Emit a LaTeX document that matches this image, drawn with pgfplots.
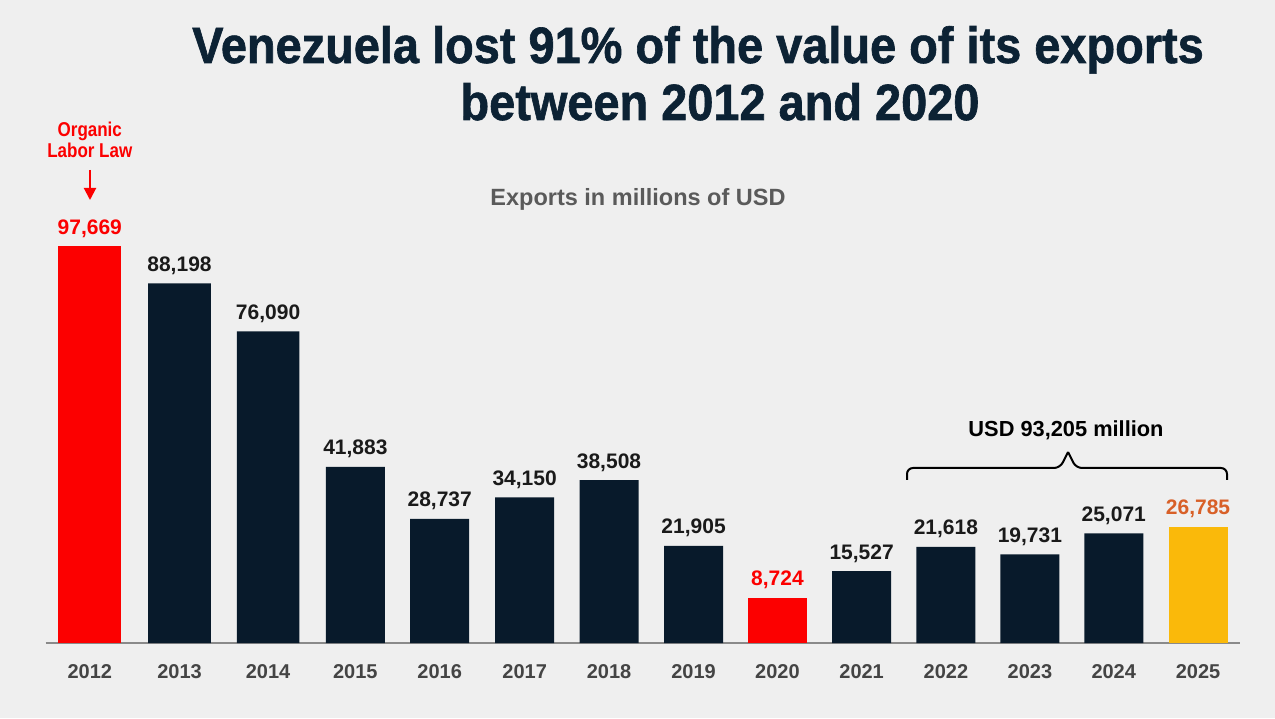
\documentclass[border=0pt]{standalone}
\usepackage{pgfplots}
\pgfplotsset{compat=1.18}
\usepackage{pgfplotstable}
\usepackage{fontspec}
\setmainfont{Liberation Sans}
\newfontfamily\titlefont[FakeStretch=0.92,FakeBold=1.2]{Liberation Sans}
\newfontfamily\condfont[FakeStretch=0.85]{Liberation Sans}
\usetikzlibrary{arrows.meta}
\definecolor{bg}{RGB}{239,239,239}
\definecolor{navy}{RGB}{8,26,43}
\definecolor{titlecol}{RGB}{12,34,52}
\definecolor{redbar}{RGB}{252,0,0}
\definecolor{yellowbar}{RGB}{250,185,10}
\definecolor{orangelab}{RGB}{216,96,40}
\definecolor{labcol}{RGB}{26,26,26}
\definecolor{yeargray}{RGB}{68,68,68}
\definecolor{subgray}{RGB}{90,90,90}
\definecolor{axisgray}{RGB}{138,138,138}

% x = bar position (2012 = 0), y = exports (millions of USD)
\pgfplotstableread{
x y lab
0 97669 97,669
}\redwide
\pgfplotstableread{
x y lab
8.161 8724 8,724
}\rednarrow
\pgfplotstableread{
x y lab
1.065 88198 88,198
2.116 76090 76,090
}\navywide
\pgfplotstableread{
x y lab
3.152 41883 41,883
4.153 28737 28,737
5.161 34150 34,150
6.162 38508 38,508
7.166 21905 21,905
9.160 15527 15,527
10.160 21618 21,618
11.157 19731 19,731
12.152 25071 25,071
}\navynarrow
\pgfplotstableread{
x y lab
13.152 26785 26,785
}\yellowbars

\begin{document}
\begin{tikzpicture}
\fill[bg] (0,0) rectangle (637.5pt,359pt);
\begin{axis}[
  at={(22.85pt,37.5pt)}, anchor=south west,
  scale only axis, width=597.05pt, height=198.5pt,
  xmin=-0.523, xmax=13.648, ymin=0, ymax=100322,
  axis x line=bottom, axis y line=none,
  x axis line style={-, color=axisgray, line width=0.7pt},
  xtick={0,1.065,2.116,3.152,4.153,5.161,6.162,7.166,8.161,9.160,10.160,11.157,12.152,13.152},
  xticklabels={2012,2013,2014,2015,2016,2017,2018,2019,2020,2021,2022,2023,2024,2025},
  major tick length=0pt,
  xticklabel style={anchor=base, yshift=-17.5pt, text=yeargray, font=\bfseries\fontsize{10}{12}\selectfont},
  ytick=\empty,
  clip=false,
  ybar, bar shift=0pt,
  y filter/.expression={y+2653},
  point meta=explicit symbolic,
  nodes near coords,
  every node near coord/.append style={anchor=base, yshift=6pt, font=\bfseries\fontsize{10.5}{12}\selectfont},
]
\addplot[fill=redbar, draw=none, bar width=31.3pt, every node near coord/.append style={text=redbar}] table[x=x, y=y, meta=lab] {\redwide};
\addplot[fill=redbar, draw=none, bar width=29.5pt, every node near coord/.append style={text=redbar}] table[x=x, y=y, meta=lab] {\rednarrow};
\addplot[fill=navy, draw=none, bar width=31.3pt, every node near coord/.append style={text=labcol}] table[x=x, y=y, meta=lab] {\navywide};
\addplot[fill=navy, draw=none, bar width=29.5pt, every node near coord/.append style={text=labcol}] table[x=x, y=y, meta=lab] {\navynarrow};
\addplot[fill=yellowbar, draw=none, bar width=29.5pt, every node near coord/.append style={text=orangelab}] table[x=x, y=y, meta=lab] {\yellowbars};
\end{axis}
% title
\node[anchor=base, text=titlecol, font=\titlefont\bfseries\fontsize{25.5}{30}\selectfont] at (349pt,327.5pt) {Venezuela lost 91\% of the value of its exports};
\node[anchor=base, text=titlecol, font=\titlefont\bfseries\fontsize{25.5}{30}\selectfont] at (360pt,299pt) {between 2012 and 2020};
% subtitle
\node[anchor=base, text=subgray, font=\bfseries\fontsize{11.75}{14}\selectfont] at (319pt,256pt) {Exports in millions of USD};
% annotation
\node[anchor=base, text=redbar, font=\condfont\bfseries\fontsize{10}{12}\selectfont] at (44.9pt,290.5pt) {Organic};
\node[anchor=base, text=redbar, font=\condfont\bfseries\fontsize{10}{12}\selectfont] at (44.9pt,280pt) {Labor Law};
\draw[redbar, line width=1pt, -{Triangle[length=6pt,width=6pt]}] (45pt,274pt) -- (45pt,259pt);
% bracket
\draw[black, line width=1pt, rounded corners=3pt] (453.5pt,119pt) -- (453.5pt,125pt) -- (530pt,125pt) -- (534pt,133pt);
\draw[black, line width=1pt, rounded corners=3pt] (613.5pt,119pt) -- (613.5pt,125pt) -- (538pt,125pt) -- (534pt,133pt);
\node[anchor=base, text=black, font=\bfseries\fontsize{10.9}{13}\selectfont] at (533pt,140.5pt) {USD 93,205 million};
\end{tikzpicture}
\end{document}
